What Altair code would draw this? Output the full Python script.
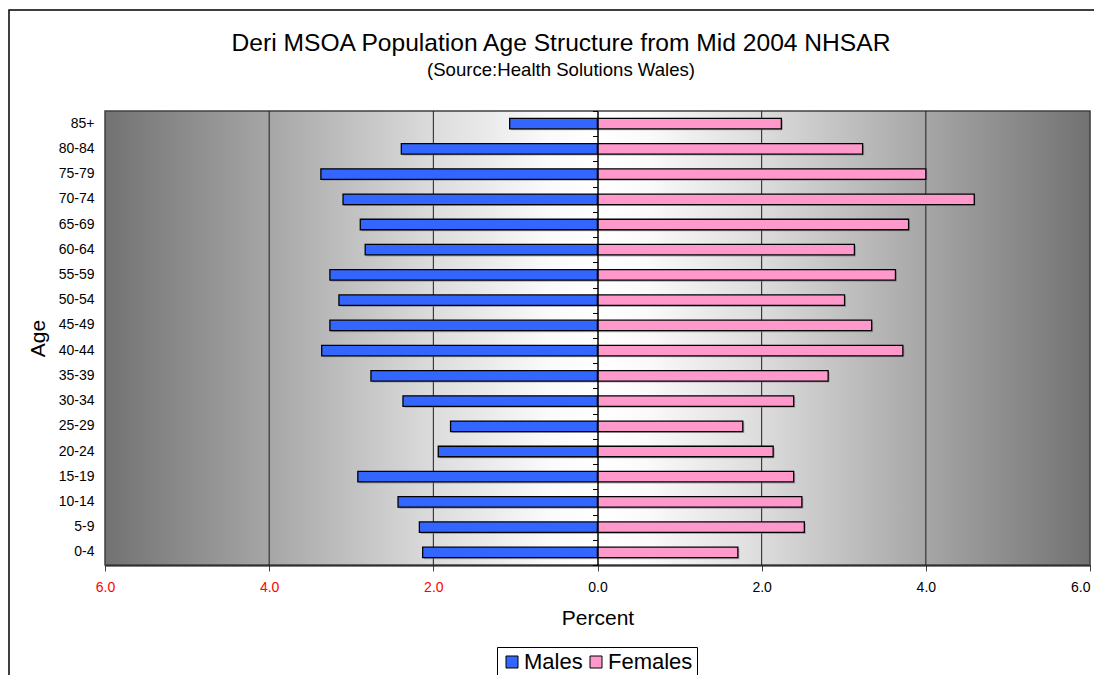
import altair as alt
import pandas as pd

ages = ["0-4", "5-9", "10-14", "15-19", "20-24", "25-29", "30-34", "35-39", "40-44",
        "45-49", "50-54", "55-59", "60-64", "65-69", "70-74", "75-79", "80-84", "85+"]
males = [2.13, 2.17, 2.43, 2.92, 1.94, 1.79, 2.37, 2.76, 3.36,
         3.26, 3.15, 3.26, 2.83, 2.89, 3.10, 3.37, 2.39, 1.07]
females = [1.71, 2.52, 2.49, 2.39, 2.14, 1.77, 2.39, 2.81, 3.72,
           3.34, 3.01, 3.63, 3.13, 3.79, 4.59, 4.00, 3.23, 2.24]
sexes = ["Males", "Females"]
sex_colors = ["#3366FF", "#FF99CC"]
x_ticks = [-6, -4, -2, 0, 2, 4, 6]
grid_vals = [-4, -2, 2, 4]
title_text = "Deri MSOA Population Age Structure from Mid 2004 NHSAR"
subtitle_text = "(Source:Health Solutions Wales)"

W, H = 985, 454
FONT = "Liberation Sans"

df = pd.DataFrame({
    "Age": ages * 2,
    "Sex": ["Males"] * len(ages) + ["Females"] * len(ages),
    "Value": [-m for m in males] + females,
})
order = ages[::-1]

xscale = alt.Scale(domain=[-6, 6], nice=False, zero=False)
yscale = alt.Scale(domain=order, paddingInner=0, paddingOuter=0)

xaxis = alt.Axis(
    values=x_ticks, grid=False, title="Percent",
    labelExpr="format(abs(datum.value), '.1f')",
    labelColor=alt.condition("datum.value < 0", alt.value("#FF0000"), alt.value("#000000")),
    labelAlign=alt.condition("datum.value >= 6", alt.value("right"), alt.value("center")),
    labelFontSize=14, labelPadding=9, labelFont=FONT, labelFlush=False,
    tickSize=6, tickColor="#444444", domainColor="#000000", domainWidth=2,
    titleFontSize=21, titleFont=FONT, titleFontWeight="normal", titlePadding=13,
    titleColor="#000000",
)

one = pd.DataFrame({"a": [0]})

grad = alt.Gradient(
    gradient="linear", x1=0, x2=1, y1=0, y2=0,
    stops=[
        alt.GradientStop(offset=0.0, color="#727272"),
        alt.GradientStop(offset=0.1667, color="#a6a6a6"),
        alt.GradientStop(offset=0.3333, color="#dcdcdc"),
        alt.GradientStop(offset=0.45, color="#fafafa"),
        alt.GradientStop(offset=0.5, color="#ffffff"),
        alt.GradientStop(offset=0.55, color="#fafafa"),
        alt.GradientStop(offset=0.6667, color="#dcdcdc"),
        alt.GradientStop(offset=0.8333, color="#a6a6a6"),
        alt.GradientStop(offset=1.0, color="#727272"),
    ],
)

bg = alt.Chart(one).mark_rect(fill=grad, stroke="#404040", strokeWidth=1.5).encode(
    x=alt.value(0), x2=alt.value(W), y=alt.value(0), y2=alt.value(H)
)

border = alt.Chart(one).mark_rect(fillOpacity=0, stroke="#000000", strokeWidth=1.5).encode(
    x=alt.value(9 - 105), x2=alt.value(W + 300), y=alt.value(10 - 111), y2=alt.value(H + 300)
)

title = alt.Chart(one).mark_text(
    text=title_text, font=FONT, fontSize=24.6, color="#000000", align="center", baseline="middle"
).encode(x=alt.value(561 - 105), y=alt.value(44 - 111))

subtitle = alt.Chart(one).mark_text(
    text=subtitle_text, font=FONT, fontSize=18.6, color="#000000", align="center", baseline="middle"
).encode(x=alt.value(561 - 105), y=alt.value(70 - 111))

grid = alt.Chart(pd.DataFrame({"v": grid_vals})).mark_rule(color="#1e1e1e", strokeWidth=1).encode(
    x=alt.X("v:Q", scale=xscale, axis=xaxis)
)

shadow = alt.Chart(df).mark_bar(size=10.5, color="#7a7a7a", opacity=0.55,
                                xOffset=1.5, yOffset=1.5).encode(
    x=alt.X("Value:Q", scale=xscale, axis=xaxis),
    y=alt.Y("Age:N", scale=yscale, sort=order, axis=None),
)

bars = alt.Chart(df).mark_bar(size=10.5, stroke="#000000", strokeWidth=1.3).encode(
    x=alt.X("Value:Q", scale=xscale, axis=xaxis),
    y=alt.Y("Age:N", scale=yscale, sort=order,
            axis=alt.Axis(orient="left", domain=False, ticks=False, grid=False,
                          labelFontSize=14, labelFont=FONT, labelPadding=11,
                          labelColor="#000000",
                          title="Age", titleFontSize=21, titleFont=FONT,
                          titleFontWeight="normal", titlePadding=10, titleColor="#000000")),
    color=alt.Color("Sex:N", scale=alt.Scale(domain=sexes, range=sex_colors),
                    legend=alt.Legend(orient="none", legendX=392, legendY=536,
                                      direction="horizontal", title=None,
                                      symbolType="square", symbolSize=144,
                                      symbolStrokeColor="#000000", symbolStrokeWidth=1,
                                      labelFontSize=22, labelFont=FONT, labelColor="#000000",
                                      labelOffset=1, columnPadding=2, padding=4,
                                      strokeColor="#000000", fillColor="#ffffff")),
)

zero_axis = alt.Chart(df).mark_point(opacity=0).encode(
    y=alt.Y("Age:N", scale=yscale, sort=order,
            axis=alt.Axis(orient="left", offset=-W / 2, labels=False, title=None,
                          domain=True, domainColor="#000000", domainWidth=1.5,
                          ticks=True, tickBand="extent", tickSize=5, tickColor="#000000",
                          grid=False, zindex=2)),
)

chart = alt.layer(border, title, subtitle, bg, grid, shadow, bars, zero_axis).resolve_axis(
    y="independent"
).properties(
    width=W, height=H,
    autosize=alt.AutoSizeParams(type="none"),
    padding={"left": 97, "top": 103, "right": 4, "bottom": 110},
).configure_view(stroke=None).configure(background="#ffffff")

chart.save("out.html", embed_options={"renderer": "svg", "actions": False})
